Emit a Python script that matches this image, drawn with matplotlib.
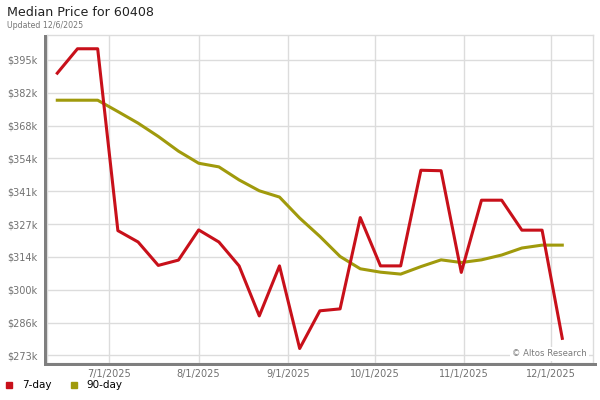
import pandas as pd
import matplotlib.pyplot as plt
from matplotlib.lines import Line2D
from matplotlib.patches import Rectangle

# Weekly data points (values in $k)
dates = pd.to_datetime([
    "2025-06-13", "2025-06-20", "2025-06-27", "2025-07-04", "2025-07-11",
    "2025-07-18", "2025-07-25", "2025-08-01", "2025-08-08", "2025-08-15",
    "2025-08-22", "2025-08-29", "2025-09-05", "2025-09-12", "2025-09-19",
    "2025-09-26", "2025-10-03", "2025-10-10", "2025-10-17", "2025-10-24",
    "2025-10-31", "2025-11-07", "2025-11-14", "2025-11-21", "2025-11-28",
    "2025-12-05",
])
price_7day = [389.8, 399.9, 399.9, 324.6, 319.9, 310.2, 312.4, 324.9, 319.9, 310.0,
              289.3, 310.0, 275.8, 291.4, 292.2, 330.0, 310.0, 310.0, 349.6, 349.4,
              307.3, 337.2, 337.2, 324.8, 324.8, 280.0]
price_90day = [378.6, 378.6, 378.6, 373.9, 369.1, 363.6, 357.5, 352.5, 351.0, 345.6,
               341.1, 338.5, 329.8, 322.2, 313.9, 308.8, 307.4, 306.6, 309.7, 312.5,
               311.4, 312.5, 314.5, 317.4, 318.6, 318.6]

y_ticks = [272.9, 286.5, 300.1, 313.7, 327.3, 340.9, 354.5, 368.1, 381.7, 395.3]
y_labels = ["$273k", "$286k", "$300k", "$314k", "$327k",
            "$341k", "$354k", "$368k", "$382k", "$395k"]
x_ticks = pd.to_datetime(["2025-07-01", "2025-08-01", "2025-09-01",
                          "2025-10-01", "2025-11-01", "2025-12-01"])
x_labels = ["7/1/2025", "8/1/2025", "9/1/2025", "10/1/2025", "11/1/2025", "12/1/2025"]

red = "#c8101a"
olive = "#a09a0c"
tick_color = "#707070"
grid_color = "#dcdcdc"

plt.rcParams["font.family"] = "DejaVu Sans"

fig = plt.figure(figsize=(6, 4), dpi=100)
W, H = 600, 400
L, R, T, B = 47.3, 593.3, 35, 362.5
ax = fig.add_axes([L / W, 1 - B / H, (R - L) / W, (B - T) / H])

ax.plot(dates, price_90day, color=olive, linewidth=2.2, zorder=3)
ax.plot(dates, price_7day, color=red, linewidth=2.2, zorder=4)

ax.set_xlim(pd.Timestamp("2025-06-09 13:00"), pd.Timestamp("2025-12-15 18:00"))
ax.set_ylim(270.0, 405.6)

ax.set_yticks(y_ticks)
ax.set_yticklabels(y_labels)
ax.set_xticks(x_ticks)
ax.set_xticklabels(x_labels)
ax.tick_params(axis="both", length=0, labelsize=7, colors=tick_color)
ax.tick_params(axis="y", pad=7)
ax.tick_params(axis="x", pad=5)
ax.grid(True, color=grid_color, linewidth=1)
ax.set_axisbelow(True)
for s in ax.spines.values():
    s.set_color(grid_color)
    s.set_linewidth(1)

# dark shadow on left and bottom
fig.add_artist(Rectangle((44.3 / W, 1 - 366 / H), 2.7 / W, (366 - T) / H,
                         transform=fig.transFigure, color="#7f7f7f", lw=0))
fig.add_artist(Rectangle((44.3 / W, 1 - 366 / H), (596.5 - 44.3) / W, 3.3 / H,
                         transform=fig.transFigure, color="#7f7f7f", lw=0))

ax.text(0.988, 0.026, "\u00a9 Altos Research", transform=ax.transAxes,
        ha="right", va="center", fontsize=6.1, color="#7a7a7a",
        bbox=dict(facecolor="white", edgecolor="none", pad=1.5), zorder=5)

fig.text(7 / W, 1 - 12 / H, "Median Price for 60408", fontsize=9.1,
         color="#222222", va="center", ha="left")
fig.text(7 / W, 1 - 25.5 / H, "Updated 12/6/2025", fontsize=5.7,
         color="#777777", va="center", ha="left")

handles = [Line2D([], [], marker="s", linestyle="none", color=red, markersize=4.5),
           Line2D([], [], marker="s", linestyle="none", color=olive, markersize=4.5)]
fig.legend(handles, ["7-day", "90-day"], loc="lower left",
           bbox_to_anchor=(-0.002, 0.006), ncol=2, frameon=False, fontsize=7.5,
           handletextpad=0.9, columnspacing=1.9, handlelength=0.6,
           borderaxespad=0.3)

plt.savefig("out.png", dpi=100)
